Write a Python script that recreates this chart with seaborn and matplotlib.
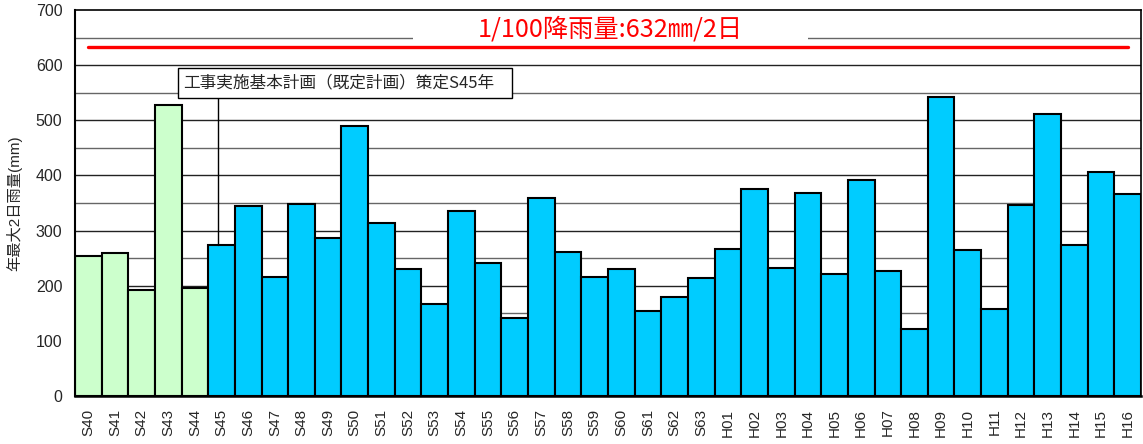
import numpy as np
import pandas as pd
import matplotlib
matplotlib.use("Agg")
import matplotlib.pyplot as plt
from matplotlib.patches import Rectangle
import seaborn as sns

# datos: lluvia máxima anual de 2 días (mm)
anios = ['S40', 'S41', 'S42', 'S43', 'S44', 'S45', 'S46', 'S47', 'S48', 'S49',
         'S50', 'S51', 'S52', 'S53', 'S54', 'S55', 'S56', 'S57', 'S58', 'S59',
         'S60', 'S61', 'S62', 'S63', 'H01', 'H02', 'H03', 'H04', 'H05', 'H06',
         'H07', 'H08', 'H09', 'H10', 'H11', 'H12', 'H13', 'H14', 'H15', 'H16']
lluvia = [253, 259, 192, 528, 195, 273, 345, 216, 348, 286,
          489, 314, 231, 166, 336, 242, 141, 359, 262, 216,
          231, 155, 180, 214, 267, 375, 233, 369, 222, 392,
          227, 122, 542, 264, 158, 347, 511, 274, 406, 366]
periodo = ['antes'] * 5 + ['despues'] * 35
colores = {'antes': '#CCFFCC', 'despues': '#00CCFF'}

lluvia_100 = 632
titulo_100 = '1/100降雨量:632㎜/2日'
nota = '工事実施基本計画（既定計画）策定S45年'
idx_nota = 5

sns.set_style("white")
plt.rcParams['font.family'] = ['Liberation Sans', 'Noto Sans CJK JP']
cjk = ['Noto Sans CJK JP', 'DejaVu Sans']

df = pd.DataFrame({'anio': anios, 'lluvia': lluvia, 'periodo': periodo})

fig = plt.figure(figsize=(11.43, 4.44), dpi=100)
ax = fig.add_axes([0.0656, 0.1081, 0.9327, 0.8694])

# lineas de grilla cada 50
for v in range(50, 700, 50):
    ax.axhline(v, color='#222222' if v % 100 == 0 else '#666666', lw=1.0, zorder=0)

sns.barplot(data=df, x='anio', y='lluvia', hue='periodo', palette=colores,
            saturation=1, dodge=False, width=1.0, edgecolor='black',
            linewidth=1.5, legend=False, ax=ax, zorder=2)

ax.set_xlim(-0.5, len(anios) - 0.5)
ax.set_ylim(0, 700)
ax.set_yticks(range(0, 701, 100))
ax.tick_params(axis='both', length=0, labelsize=11.5)
ax.tick_params(axis='y', pad=9)
ax.tick_params(axis='x', pad=9)
plt.setp(ax.get_xticklabels(), rotation=90, fontsize=11)
ax.set_xlabel('')
ax.set_ylabel('年最大2日雨量(mm)', fontsize=11, labelpad=10)

for s in ax.spines.values():
    s.set_color('black')
    s.set_linewidth(1.2)
ax.spines['left'].set_linewidth(1.5)
ax.spines['bottom'].set_linewidth(1.8)

# linea de lluvia 1/100
ax.plot([0.0, len(anios) - 0.98], [lluvia_100, lluvia_100], color='#FF0000',
        lw=2.4, zorder=3)
ax.add_patch(Rectangle((12.2, 640), 14.8, 40, facecolor='white',
                       edgecolor='none', zorder=1))
ax.text(19.6, 665, titulo_100, color='#FF0000', fontsize=18.2,
        family=cjk, ha='center', va='center', zorder=4)

# nota del plan
ax.plot([4.87, 4.87], [lluvia[idx_nota], 541], color='black', lw=1.0, zorder=3)
ax.add_patch(Rectangle((3.37, 541), 12.53, 54, facecolor='white',
                       edgecolor='black', lw=1.0, zorder=4))
ax.text(3.55, 568, nota, fontsize=12, family=cjk, ha='left', va='center',
        zorder=5)

plt.savefig('out.png', dpi=100)
